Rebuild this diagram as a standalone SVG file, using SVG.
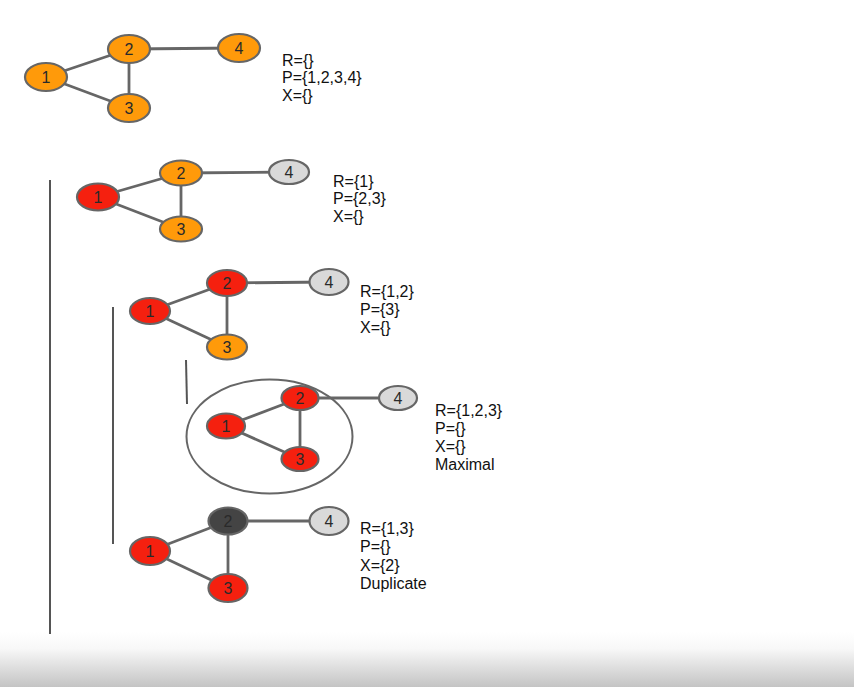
<svg xmlns="http://www.w3.org/2000/svg" width="854" height="687" viewBox="0 0 854 687">
<defs>
<linearGradient id="bottom" x1="0" y1="0" x2="0" y2="1">
<stop offset="0" stop-color="#ffffff"/>
<stop offset="0.3" stop-color="#f8f8f8"/>
<stop offset="1" stop-color="#c4c4c4"/>
</linearGradient>
</defs>
<style>
.n ellipse{stroke:#666;stroke-width:2.2}
.n text{font-family:"Liberation Sans",Arial,sans-serif;font-size:16px;fill:#2a2a2a;text-anchor:middle;dominant-baseline:central}
.o{fill:#ff9a0a}
.r{fill:#f5200f}
.g{fill:#d9d9d9}
.d{fill:#444}
.e line{stroke:#666;stroke-width:2.8}
.b line{stroke:#555;stroke-width:2}
.lab{font-family:"Liberation Sans",Arial,sans-serif;font-size:16px;fill:#111}
</style>
<rect width="854" height="687" fill="#fff"/>
<rect x="0" y="632" width="854" height="55" fill="url(#bottom)"/>

<g id="brackets" class="b">
<line x1="50" y1="180" x2="50" y2="634"/>
<line x1="113" y1="307" x2="113" y2="544"/>
<line x1="186" y1="360" x2="187" y2="404"/>
</g>

<ellipse id="clique" cx="269.5" cy="436.5" rx="83" ry="57" fill="none" stroke="#666" stroke-width="2"/>

<g id="connectors" class="e">
<line x1="46" y1="77" x2="129" y2="49"/>
<line x1="46" y1="77" x2="129" y2="108"/>
<line x1="129" y1="49" x2="129" y2="108"/>
<line x1="129" y1="49" x2="239" y2="48"/>

<line x1="98" y1="197" x2="181" y2="173"/>
<line x1="98" y1="197" x2="181" y2="229"/>
<line x1="181" y1="173" x2="181" y2="229"/>
<line x1="181" y1="173" x2="289" y2="172"/>

<line x1="150" y1="311" x2="227" y2="283"/>
<line x1="150" y1="311" x2="227" y2="347"/>
<line x1="227" y1="283" x2="227" y2="347"/>
<line x1="227" y1="283" x2="329" y2="282"/>

<line x1="226" y1="426" x2="300" y2="398"/>
<line x1="226" y1="426" x2="300" y2="459"/>
<line x1="300" y1="398" x2="300" y2="459"/>
<line x1="300" y1="398" x2="398" y2="398"/>

<line x1="150" y1="551" x2="228" y2="521"/>
<line x1="150" y1="551" x2="228" y2="588"/>
<line x1="228" y1="521" x2="228" y2="588"/>
<line x1="228" y1="521" x2="329" y2="521"/>
</g>

<g id="g1-n1" class="n"><ellipse class="o" cx="46" cy="77" rx="21" ry="14"/><text x="46" y="77">1</text></g>
<g id="g1-n2" class="n"><ellipse class="o" cx="129" cy="49" rx="21" ry="14"/><text x="129" y="49">2</text></g>
<g id="g1-n3" class="n"><ellipse class="o" cx="129" cy="108" rx="21" ry="14"/><text x="129" y="108">3</text></g>
<g id="g1-n4" class="n"><ellipse class="o" cx="239" cy="48" rx="21" ry="14"/><text x="239" y="48">4</text></g>
<text class="lab" x="282" y="66">R={}</text>
<text class="lab" x="282" y="83">P={1,2,3,4}</text>
<text class="lab" x="282" y="101">X={}</text>

<g id="g2-n1" class="n"><ellipse class="r" cx="98" cy="197" rx="21" ry="13.5"/><text x="98" y="197">1</text></g>
<g id="g2-n2" class="n"><ellipse class="o" cx="181" cy="173" rx="21" ry="12.5"/><text x="181" y="173">2</text></g>
<g id="g2-n3" class="n"><ellipse class="o" cx="181" cy="229" rx="21" ry="12.5"/><text x="181" y="229">3</text></g>
<g id="g2-n4" class="n"><ellipse class="g" cx="289" cy="172" rx="20" ry="12"/><text x="289" y="172">4</text></g>
<text class="lab" x="333" y="187">R={1}</text>
<text class="lab" x="333" y="204">P={2,3}</text>
<text class="lab" x="333" y="222">X={}</text>

<g id="g3-n1" class="n"><ellipse class="r" cx="150" cy="311" rx="20" ry="13"/><text x="150" y="311">1</text></g>
<g id="g3-n2" class="n"><ellipse class="r" cx="227" cy="283" rx="20" ry="13"/><text x="227" y="283">2</text></g>
<g id="g3-n3" class="n"><ellipse class="o" cx="227" cy="347" rx="20" ry="12.5"/><text x="227" y="347">3</text></g>
<g id="g3-n4" class="n"><ellipse class="g" cx="329" cy="282" rx="19.5" ry="13"/><text x="329" y="282">4</text></g>
<text class="lab" x="360" y="297">R={1,2}</text>
<text class="lab" x="360" y="315">P={3}</text>
<text class="lab" x="360" y="333">X={}</text>

<g id="g4-n1" class="n"><ellipse class="r" cx="226" cy="426" rx="19" ry="12.5"/><text x="226" y="426">1</text></g>
<g id="g4-n2" class="n"><ellipse class="r" cx="300" cy="398" rx="18.5" ry="12"/><text x="300" y="398">2</text></g>
<g id="g4-n3" class="n"><ellipse class="r" cx="300" cy="459" rx="18.5" ry="12"/><text x="300" y="459">3</text></g>
<g id="g4-n4" class="n"><ellipse class="g" cx="398" cy="398" rx="19" ry="12"/><text x="398" y="398">4</text></g>
<text class="lab" x="435" y="416">R={1,2,3}</text>
<text class="lab" x="435" y="434">P={}</text>
<text class="lab" x="435" y="452">X={}</text>
<text class="lab" x="435" y="470">Maximal</text>

<g id="g5-n1" class="n"><ellipse class="r" cx="150" cy="551" rx="20" ry="14"/><text x="150" y="551">1</text></g>
<g id="g5-n2" class="n"><ellipse class="d" cx="228" cy="521" rx="19.5" ry="13.5"/><text x="228" y="521" fill="#111">2</text></g>
<g id="g5-n3" class="n"><ellipse class="r" cx="228" cy="588" rx="19.5" ry="14"/><text x="228" y="588">3</text></g>
<g id="g5-n4" class="n"><ellipse class="g" cx="329" cy="521" rx="19.5" ry="14"/><text x="329" y="521">4</text></g>
<text class="lab" x="360" y="534">R={1,3}</text>
<text class="lab" x="360" y="552">P={}</text>
<text class="lab" x="360" y="571">X={2}</text>
<text class="lab" x="360" y="589">Duplicate</text>
</svg>
